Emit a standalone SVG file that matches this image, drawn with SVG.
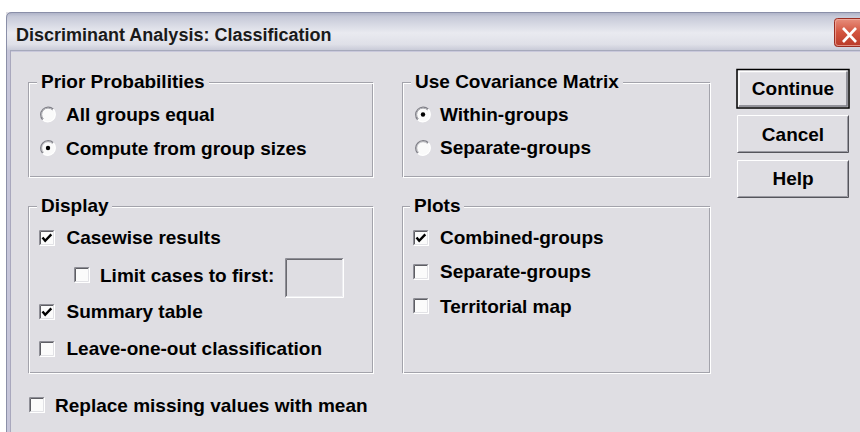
<svg xmlns="http://www.w3.org/2000/svg" xmlns:xlink="http://www.w3.org/1999/xlink" width="860" height="432" viewBox="0 0 860 432">
<style>
.t{font-family:"Liberation Sans",Arial,sans-serif;font-weight:bold;font-size:19px;fill:#000}
.tt{font-family:"Liberation Sans",Arial,sans-serif;font-weight:bold;font-size:18px;fill:#1a1a1a}
.sh{fill:none;stroke:#a3a3ab;stroke-width:1}
.hl{fill:none;stroke:#ffffff;stroke-width:1}
.lb{fill:#dfdee3}
.btn{fill:#dfdee3}
</style>
<defs>
<linearGradient id="tb" x1="0" y1="0" x2="0" y2="1">
<stop offset="0" stop-color="#a9aec4"/>
<stop offset="0.12" stop-color="#c6c9d8"/>
<stop offset="0.55" stop-color="#e9eaf0"/>
<stop offset="0.85" stop-color="#dfe0e8"/>
<stop offset="1" stop-color="#c9cbd8"/>
</linearGradient>
<linearGradient id="cl" x1="0" y1="0" x2="0" y2="1">
<stop offset="0" stop-color="#e8907e"/>
<stop offset="0.5" stop-color="#d2543f"/>
<stop offset="1" stop-color="#b83a28"/>
</linearGradient>
<g id="cb">
<rect x="0" y="0" width="16" height="16" fill="#fbfbfb"/>
<path d="M0.5 15.5V0.5H15.5" fill="none" stroke="#8e8e96"/>
<path d="M1.5 14.5V1.5H14.5" fill="none" stroke="#5e5e64"/>
<path d="M0.5 15.5H15.5V0.5" fill="none" stroke="#ffffff"/>
<path d="M1.5 14.5H14.5V1.5" fill="none" stroke="#e2e2e6"/>
</g>
<path id="chk" d="M3.5 7.5L6.2 10.8L12.3 4.4" fill="none" stroke="#000" stroke-width="2.4"/>
<g id="rb">
<circle cx="0" cy="0" r="7.5" fill="#fafafa"/>
<path d="M-5.3 5.3A7.5 7.5 0 0 1 5.3 -5.3" fill="none" stroke="#7e7e86" stroke-width="1.3"/>
<path d="M-4.5 4.5A6.3 6.3 0 0 1 4.5 -4.5" fill="none" stroke="#a8a8ae" stroke-width="1"/>
<path d="M5.3 -5.3A7.5 7.5 0 0 1 -5.3 5.3" fill="none" stroke="#ffffff" stroke-width="1.2"/>
</g>
</defs>

<rect x="0" y="0" width="860" height="432" fill="#ffffff"/>
<rect x="6" y="12" width="860" height="430" fill="#dfdee3"/>
<path d="M6 50V18Q6 12 12 12H860V50Z" fill="url(#tb)"/>
<path d="M6.5 50V18Q6.5 12.5 12 12.5H860" fill="none" stroke="#8a8fa8"/>
<line x1="6" y1="50.5" x2="860" y2="50.5" stroke="#a6a9bc"/>
<line x1="10" y1="51.5" x2="860" y2="51.5" stroke="#c9c8db"/>
<line x1="6.5" y1="50" x2="6.5" y2="432" stroke="#8c90a8"/>
<rect x="7" y="50" width="3" height="382" fill="#c7c6da"/>
<line x1="10.5" y1="51" x2="10.5" y2="432" stroke="#a9a8bd"/>
<text class="tt" x="16" y="40.5">Discriminant Analysis: Classification</text>
<g id="close">
<rect x="834.5" y="18.5" width="30" height="28" rx="3" fill="url(#cl)" stroke="#9c2e22"/>
<rect x="835.5" y="19.5" width="28" height="26" rx="2.5" fill="none" stroke="#f2b2a6" stroke-opacity="0.7"/>
<path d="M843 28L856 42M856 28L843 42" stroke="#ffffff" stroke-width="2.6"/>
</g>

<g id="prior">
<rect class="sh" x="28.5" y="82.5" width="344" height="94"/>
<rect class="hl" x="29.5" y="83.5" width="344" height="94"/>
<rect class="lb" x="37" y="74" width="172" height="14"/>
<text class="t" x="41" y="87.5">Prior Probabilities</text>
<use xlink:href="#rb" x="48" y="114.5"/>
<text class="t" x="66" y="121">All groups equal</text>
<use xlink:href="#rb" x="48" y="148"/>
<circle cx="48" cy="148" r="2.2" fill="#000"/>
<text class="t" x="66" y="154.5">Compute from group sizes</text>
</g>

<g id="covariance">
<rect class="sh" x="402.5" y="82.5" width="307" height="94"/>
<rect class="hl" x="403.5" y="83.5" width="307" height="94"/>
<rect class="lb" x="411" y="74" width="212" height="14"/>
<text class="t" x="415" y="87.5">Use Covariance Matrix</text>
<use xlink:href="#rb" x="423" y="114.5"/>
<circle cx="423" cy="114.5" r="2.2" fill="#000"/>
<text class="t" x="440" y="120.5">Within-groups</text>
<use xlink:href="#rb" x="423" y="148"/>
<text class="t" x="440" y="153.5">Separate-groups</text>
</g>

<g id="continue">
<rect x="737" y="69.5" width="112" height="38.5" fill="#dfdee3" stroke="#000" stroke-width="1.5"/>
<path d="M739 106V71.5H847" fill="none" stroke="#ffffff" stroke-width="1.5"/>
<path d="M739 106H847V71.5" fill="none" stroke="#7a7a82" stroke-width="1.5"/>
<text class="t" x="793" y="94.5" text-anchor="middle">Continue</text>
</g>
<g id="cancel">
<rect class="btn" x="737" y="115" width="112" height="38"/>
<path d="M737.5 152.5V115.5H848.5" fill="none" stroke="#ffffff"/>
<path d="M737.5 152.5H848.5V115.5" fill="none" stroke="#55555c"/>
<path d="M738.5 151.5H847.5V116.5" fill="none" stroke="#9a9aa2"/>
<text class="t" x="793" y="140.5" text-anchor="middle">Cancel</text>
</g>
<g id="help">
<rect class="btn" x="737" y="160" width="112" height="38"/>
<path d="M737.5 197.5V160.5H848.5" fill="none" stroke="#ffffff"/>
<path d="M737.5 197.5H848.5V160.5" fill="none" stroke="#55555c"/>
<path d="M738.5 196.5H847.5V161.5" fill="none" stroke="#9a9aa2"/>
<text class="t" x="793" y="184.5" text-anchor="middle">Help</text>
</g>

<g id="display">
<rect class="sh" x="28.5" y="206.5" width="344" height="166"/>
<rect class="hl" x="29.5" y="207.5" width="344" height="166"/>
<rect class="lb" x="37" y="198" width="75" height="14"/>
<text class="t" x="41" y="211.5">Display</text>
<use xlink:href="#cb" x="39" y="230"/>
<use xlink:href="#chk" x="39" y="230"/>
<text class="t" x="66.5" y="244">Casewise results</text>
<use xlink:href="#cb" x="74" y="267"/>
<text class="t" x="100" y="282">Limit cases to first:</text>
<g id="limit-input">
<rect x="285" y="258.5" width="58" height="39" fill="#dfdee3"/>
<path d="M285.5 297V258.5H343" fill="none" stroke="#8e8e96"/>
<path d="M286.5 296V259.5H342" fill="none" stroke="#6a6a70"/>
<path d="M286 297.5H343.5V259" fill="none" stroke="#ffffff"/>
<path d="M287 296.5H342.5V260" fill="none" stroke="#ececf0"/>
</g>
<use xlink:href="#cb" x="39" y="304"/>
<use xlink:href="#chk" x="39" y="304"/>
<text class="t" x="66.5" y="318">Summary table</text>
<use xlink:href="#cb" x="39" y="341"/>
<text class="t" x="66.5" y="355">Leave-one-out classification</text>
</g>

<g id="plots">
<rect class="sh" x="402.5" y="206.5" width="307" height="166"/>
<rect class="hl" x="403.5" y="207.5" width="307" height="166"/>
<rect class="lb" x="410" y="198" width="54" height="14"/>
<text class="t" x="414" y="211.5">Plots</text>
<use xlink:href="#cb" x="413" y="230"/>
<use xlink:href="#chk" x="413" y="230"/>
<text class="t" x="440" y="244">Combined-groups</text>
<use xlink:href="#cb" x="413" y="264"/>
<text class="t" x="440" y="278">Separate-groups</text>
<use xlink:href="#cb" x="413" y="298"/>
<text class="t" x="440" y="312.5">Territorial map</text>
</g>

<g id="replace">
<use xlink:href="#cb" x="29" y="397"/>
<text class="t" x="55" y="411.5">Replace missing values with mean</text>
</g>
<g id="connectors"/>
</svg>
